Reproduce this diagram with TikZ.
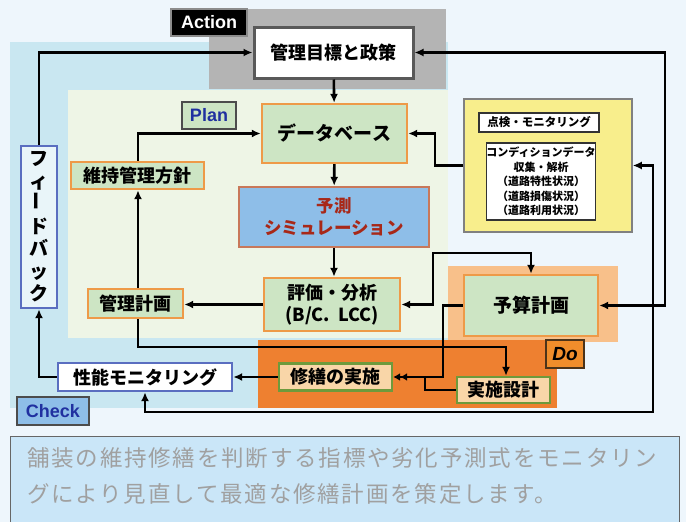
\documentclass[tikz,border=0pt]{standalone}
\usepackage{fontspec}
\usepackage{graphicx}
\usetikzlibrary{arrows.meta}
\newfontfamily\jp{Noto Sans CJK JP}
\newfontfamily\jpb{Noto Sans CJK JP}[UprightFont={* Bold}, FakeBold=1.2]
\newfontfamily\lat{Liberation Sans}
\definecolor{bgc}{HTML}{EEF6FC}
\definecolor{checkc}{HTML}{C9E7F1}
\definecolor{planc}{HTML}{EEF5E6}
\definecolor{actc}{HTML}{B4B4B4}
\definecolor{doc}{HTML}{EE8030}
\definecolor{budc}{HTML}{F8C08A}
\definecolor{gfill}{HTML}{CDE5C4}
\definecolor{oline}{HTML}{EE9A48}
\definecolor{simfill}{HTML}{8EBEE8}
\definecolor{simline}{HTML}{C8785A}
\definecolor{simtext}{HTML}{A82818}
\definecolor{peach}{HTML}{F9D6A8}
\definecolor{gline}{HTML}{6E9A3C}
\definecolor{bline}{HTML}{5A6EC0}
\definecolor{yel}{HTML}{F8EE8C}
\definecolor{capc}{HTML}{CAE6F8}
\definecolor{capt}{HTML}{A0A0A0}
\definecolor{dblue}{HTML}{2030A0}
\tikzset{
  box/.style={draw, line width=2.4pt, inner sep=0pt, font=\jp\bfseries\fontsize{18}{20}\selectfont, align=center},
  gbox/.style={box, fill=gfill, draw=oline},
  pbox/.style={box, fill=peach, draw=gline},
  bbox/.style={box, fill=white, draw=bline},
  arr/.style={line width=2.6pt, -{Latex[length=9pt,width=8pt]}},
  arrb/.style={line width=2.6pt, {Latex[length=9pt,width=8pt]}-{Latex[length=9pt,width=8pt]}},
  arrd/.style={line width=2.6pt, -{Latex[length=7pt,width=8pt]Latex[length=7pt,width=8pt]}},
  ln/.style={line width=2.6pt},
  tag/.style={draw=black!70, line width=1.5pt, inner sep=0pt, font=\lat\bfseries\fontsize{18}{20}\selectfont}
}
\begin{document}
\begin{tikzpicture}[x=1pt,y=-1pt]
\useasboundingbox (0,0) rectangle (686,522);
\fill[bgc] (0,0) rectangle (686,522);
% regions
\fill[checkc] (10,42) rectangle (448,408);
\fill[actc] (209,9) rectangle (446,89);
\fill[planc] (68,90) rectangle (448,338);
\fill[budc] (448,266) rectangle (618,342);
\fill[doc] (258,340) rectangle (557,408);
\fill[doc] (448,342) rectangle (557,360);
% tags
\node[tag, fill=black, text=white, minimum width=76pt, minimum height=27pt, draw=black!45] (act) at (209,22.5) {Action};
\node[tag, fill=gfill, text=dblue, minimum width=54pt, minimum height=27pt] (plan) at (209,115.5) {Plan};
\node[tag, fill=simfill, text=dblue, minimum width=72pt, minimum height=28pt] (check) at (53,411) {Check};
\node[tag, fill=doc!90!yellow, text=black, minimum width=38pt, minimum height=28pt, draw=black!60!brown, font=\lat\bfseries\itshape\fontsize{19}{20}\selectfont] (do) at (565,354) {Do};
% nodes
\node[box, fill=white, draw=black!65, line width=3pt, minimum width=159pt, minimum height=51pt] (goal) at (333.5,52.5) {管理目標と政策};
\node[gbox, minimum width=145pt, minimum height=59pt, font=\jp\bfseries\fontsize{19}{21}\selectfont] (db) at (334.5,133.5) {データベース};
\node[box, fill=simfill, draw=simline, text=simtext, minimum width=190pt, minimum height=60pt, font=\jp\bfseries\fontsize{17.5}{22}\selectfont] (sim) at (334,217) {予測\\シミュレーション};
\node[gbox, minimum width=136pt, minimum height=53pt, font=\jp\bfseries\fontsize{18}{22}\selectfont] (eval) at (332,304.5) {評価・分析\\(B/C.\ \ LCC)};
\node[gbox, minimum width=134pt, minimum height=61pt, font=\jp\bfseries\fontsize{19}{21}\selectfont] (bud) at (531,305.5) {予算計画};
\node[draw=black!50, line width=1.5pt, fill=yel, minimum width=168pt, minimum height=133pt] (insp) at (548,165.5) {};
\node[draw=black!80, line width=1.2pt, fill=white, minimum width=120pt, minimum height=19pt, inner sep=0pt, font=\jp\bfseries\fontsize{11.5}{13}\selectfont] (ititle) at (539,122.5) {点検・モニタリング};
\node[draw=black!80, line width=1.2pt, fill=white, minimum width=108pt, minimum height=77pt, inner sep=0pt, align=center, font=\jp\bfseries\fontsize{11}{14.5}\selectfont] (iin) at (541,181.5) {コンディションデータ\\収集・解析\\（道路特性状況）\\（道路損傷状況）\\（道路利用状況）};
\node[bbox, fill=white!60!checkc, minimum width=36pt, minimum height=162pt, font=\jp\bfseries\fontsize{19}{22.5}\selectfont] (fb) at (39,227) {フ\\ィ\\\rotatebox{90}{ー}\\ド\\バ\\ッ\\ク};
\node[bbox, minimum width=174pt, minimum height=28pt] (perf) at (145,377) {性能モニタリング};
\node[pbox, minimum width=113pt, minimum height=27pt] (rep) at (335.5,377) {修繕の実施};
\node[pbox, minimum width=93pt, minimum height=26pt] (des) at (503.5,390) {実施設計};
\node[gbox, minimum width=95pt, minimum height=29pt] (mplan) at (135.5,303.5) {管理計画};
\node[gbox, minimum width=133pt, minimum height=27pt] (pol) at (137.5,175.5) {維持管理方針};
% helper coordinates
\coordinate (c1) at (138,0);
\coordinate (k1) at (506,347);
\coordinate (k2) at (433,253);
\coordinate (k3) at (443,0);
\coordinate (k4) at (425,0);
\coordinate (k5) at (665,0);
\coordinate (k6) at (653,412);
\coordinate (k7) at (435,0);
% edges
\draw[arr] (goal) -- (db);
\draw[arr] (db) -- (sim);
\draw[arr] (sim.south) -- (sim.south |- eval.north);
\draw[arr] (insp.west) -| (k7 |- db.east) -- (db.east);
\draw[arr] (fb.north) |- (goal.west);
\draw[arr] (perf.west) -| (fb.south);
\draw[arr] (rep.west) -- (perf.east);
\draw[arr] (eval.west) -- (eval.west -| mplan.east);
\draw[arr] (mplan.north -| c1) -- (pol.south -| c1);
\draw[arr] (pol.north -| c1) |- (db.west);
\draw[arr] (mplan.south -| c1) |- (k1) -- (k1 |- des.north);
\draw[arrb] (eval.east) -| (k2) -| (bud.north);
\draw[arrd] (bud.west) -| (k3 |- rep.east) -- (rep.east);
\draw[ln] (des.west) -| (k4 |- rep.east);
\draw[arrb] (goal.east) -| (k5 |- bud.east) -- (bud.east);
\draw[arrb] (insp.east) -| (k6) -| (perf.south);
% caption
\node[draw=black!60, line width=1pt, fill=capc, minimum width=669pt, minimum height=90pt, anchor=north west] (cap) at (10,436) {};
\node[anchor=west, inner sep=0pt, text=capt, font=\jp\fontsize{22.5}{24}\selectfont\addfontfeatures{LetterSpace=8}] (l1) at (27,458) {舗装の維持修繕を判断する指標や劣化予測式をモニタリン};
\node[anchor=west, inner sep=0pt, text=capt, font=\jp\fontsize{22.5}{24}\selectfont\addfontfeatures{LetterSpace=8}] (l2) at (27,494) {グにより見直して最適な修繕計画を策定します。};
\end{tikzpicture}
\end{document}
